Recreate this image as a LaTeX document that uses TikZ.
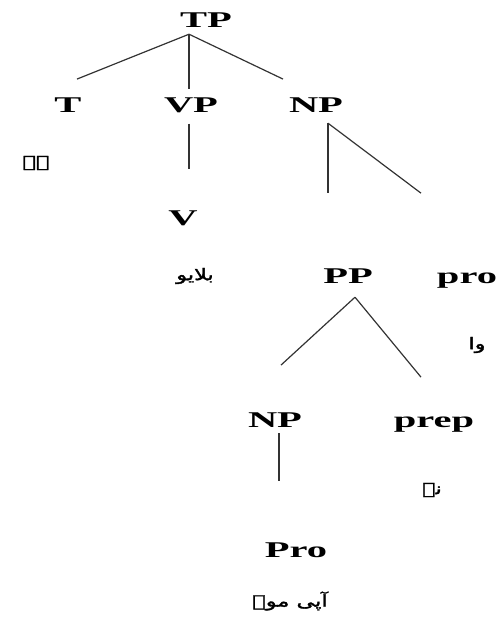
\documentclass[tikz,border=0pt]{standalone}
\usepackage{fontspec}
\setmainfont{Liberation Serif}[FakeStretch=1.8]
\newfontfamily\urdufont[Script=Arabic,FakeStretch=1.4,FakeBold=2]{DejaVu Sans}
\TeXXeTstate=1
\tikzset{
  lab/.style={font=\fontsize{22.5}{24}\selectfont\bfseries, inner sep=0pt, anchor=base, text=black},
  urd/.style={font=\fontsize{16}{18}\selectfont\urdufont, inner sep=0pt, anchor=center, text=black},
  edge/.style={draw=black!80, line width=1.2pt}
}
\begin{document}
\begin{tikzpicture}[x=1pt,y=-1pt]
\useasboundingbox (0,0) rectangle (498,625);
% labels
\node[lab] (TP) at (206,27) {TP};
\node[lab] (T) at (68,112) {T};
\node[lab] (VP) at (191,112) {VP};
\node[lab] (NP) at (316,112) {NP};
\node[urd] (T1) at (36,163) {\beginR ہے\endR};
\node[lab] (V) at (183,225) {V};
\node[urd] (V1) at (195,276) {\beginR بلایو\endR};
\node[lab] (PP) at (348,283) {PP};
\node[lab] (pro) at (467,283) {pro};
\node[urd] (pro1) at (477,345) {\beginR وا\endR};
\node[lab] (NP2) at (275,427) {NP};
\node[lab] (prep) at (434,427) {prep};
\node[urd] (prep1) at (432,490) {\beginR نے\endR};
\node[lab] (Pro) at (296,557) {Pro};
\node[urd] (Pro1) at (290,601) {\beginR آپی موۓ\endR};
% connectors
\draw[edge] ([xshift=-17pt,yshift=-7pt]TP.south) -- ([xshift=9pt,yshift=18pt]T.north);
\draw[edge] ([xshift=-17pt,yshift=-7pt]TP.south) -- ([xshift=-2pt,yshift=8pt]VP.north);
\draw[edge] ([xshift=-17pt,yshift=-7pt]TP.south) -- ([xshift=-33pt,yshift=18pt]NP.north);
\draw[edge] ([xshift=-2pt,yshift=-11pt]VP.south) -- ([xshift=6pt,yshift=41pt]V.north);
\draw[edge] ([xshift=12pt,yshift=-11pt]NP.south) -- ([xshift=-20pt,yshift=75pt]PP.north);
\draw[edge] ([xshift=12pt,yshift=-11pt]NP.south) -- ([xshift=-46pt,yshift=79pt]pro.north);
\draw[edge] ([xshift=7pt,yshift=-14pt]PP.south) -- ([xshift=6pt,yshift=47pt]NP2.north);
\draw[edge] ([xshift=7pt,yshift=-14pt]PP.south) -- ([xshift=-13pt,yshift=39pt]prep.north);
\draw[edge] ([xshift=4pt,yshift=-6pt]NP2.south) -- ([xshift=-17pt,yshift=61pt]Pro.north);
\end{tikzpicture}
\end{document}
